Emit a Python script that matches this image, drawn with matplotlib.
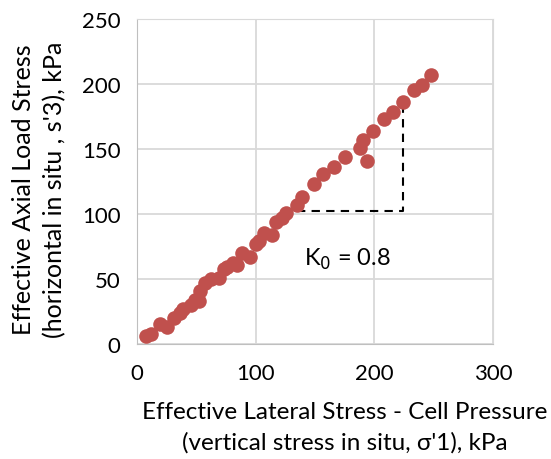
import numpy as np
from matplotlib import pyplot as plt

plt.rcParams['font.family'] = ['Lato', 'DejaVu Sans']

# lateral (cell pressure) and axial stress readings, kPa
lateral = [7, 12, 19, 25, 31, 36, 39, 45, 49, 52, 53, 57, 62, 69, 73, 76, 81, 84, 88,
           95, 100, 103, 107, 114, 117, 122, 125, 135, 139, 149, 157, 166, 175,
           188, 190, 194, 199, 208, 216, 224, 233, 240, 248]
axial = [6, 8, 15, 13, 20, 24, 27, 30, 34, 33, 41, 47, 50, 51, 58, 59, 62, 61, 70,
         67, 77, 79, 85, 84, 94, 97, 101, 107, 113, 123, 131, 136, 144,
         151, 157, 141, 164, 173, 178, 186, 195, 199, 207]

# K0 slope triangle
tri_x = [135, 224, 224]
tri_y = [102, 102, 184]

fig = plt.figure(figsize=(5.51, 4.60), dpi=100)
ax = fig.add_axes([0.249, 0.25, 0.646, 0.707])

ax.scatter(lateral, axial, s=110, color='#C0504D', zorder=3, linewidths=0)
ax.plot(tri_x, tri_y, '--', color='black', lw=1.5, dashes=(4, 3), zorder=2)
ax.text(141, 66, 'K$_0$ = 0.8', fontsize=17, va='center')

ax.set_xlim(0, 300)
ax.set_ylim(0, 250)
ax.set_xticks([0, 100, 200, 300])
ax.set_yticks([0, 50, 100, 150, 200, 250])
ax.grid(color='#D9D9D9', lw=1.3)
ax.set_axisbelow(True)
for s in ax.spines.values():
    s.set_color('#D9D9D9')
ax.spines['left'].set_color('#BFBFBF')
ax.spines['bottom'].set_color('#BFBFBF')
ax.tick_params(length=0, labelsize=16)
ax.tick_params(axis='x', pad=14)
ax.tick_params(axis='y', pad=12)

fig.text(345/551, 1 - 413/460, "Effective Lateral Stress - Cell Pressure", ha='center', va='center', fontsize=17.5)
fig.text(345/551, 1 - 443/460, "(vertical stress in situ, σ'1), kPa", ha='center', va='center', fontsize=17.5)
fig.text(24/551, 1 - 190/460, "Effective Axial Load Stress", rotation=90, ha='center', va='center', fontsize=18)
fig.text(55/551, 1 - 190/460, "(horizontal in situ , s'3), kPa", rotation=90, ha='center', va='center', fontsize=18)

plt.savefig('out.png', dpi=100)
